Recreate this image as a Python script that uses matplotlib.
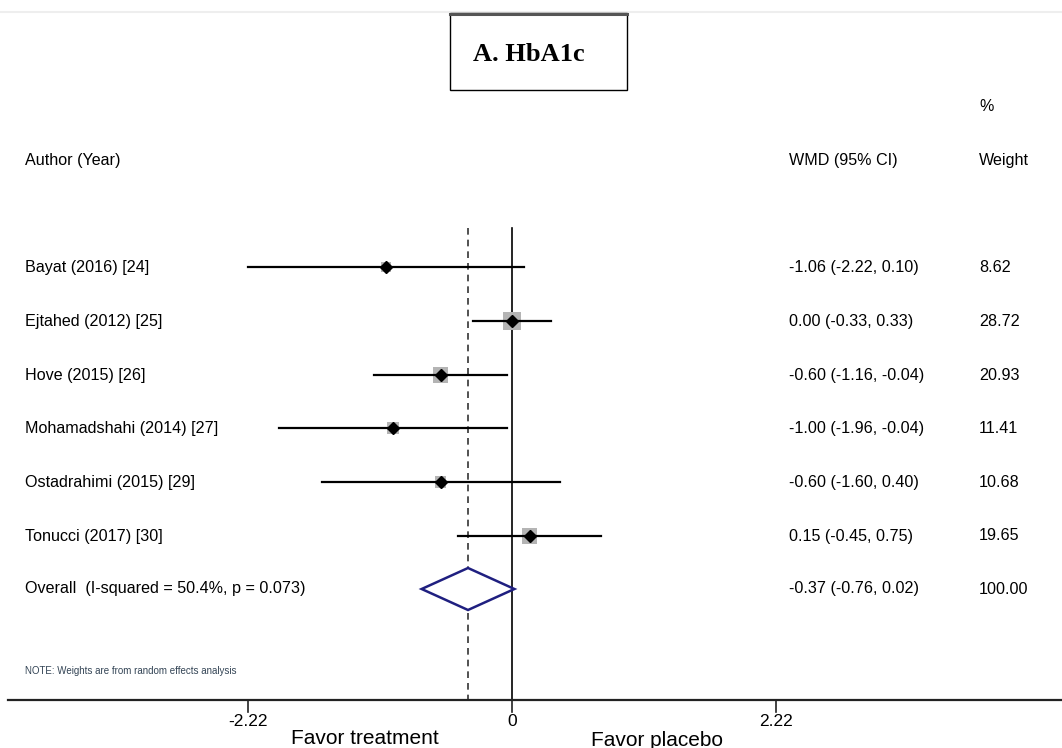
import matplotlib
matplotlib.use("Agg")
import matplotlib.pyplot as plt
from matplotlib.patches import Polygon, Rectangle
import numpy as np

studies = ["Bayat (2016) [24]", "Ejtahed (2012) [25]", "Hove (2015) [26]",
           "Mohamadshahi (2014) [27]", "Ostadrahimi (2015) [29]", "Tonucci (2017) [30]"]
wmd = [-1.06, 0.00, -0.60, -1.00, -0.60, 0.15]
lo = [-2.22, -0.33, -1.16, -1.96, -1.60, -0.45]
hi = [0.10, 0.33, -0.04, -0.04, 0.40, 0.75]
weights = [8.62, 28.72, 20.93, 11.41, 10.68, 19.65]
overall = (-0.37, -0.76, 0.02)
overall_label = "Overall  (I-squared = 50.4%, p = 0.073)"
xticks = [-2.22, 0, 2.22]
xticklabels = ["-2.22", "0", "2.22"]

fig = plt.figure(figsize=(10.62, 7.48), dpi=100)
ax = fig.add_axes([0, 0, 1, 1])
px = 118.9  # pixels per unit
ax.set_xlim(-512 / px, 550 / px)
ax.set_ylim(748, 0)
ax.axis("off")

font = "Liberation Sans"
fs = 11.6

def X(p):
    return p / px - 512 / px

row_y = [267, 321, 375, 428, 482, 536]
ov_y = 589

# reference lines
ax.plot([0, 0], [228, 700], color="black", lw=1.2, zorder=1)
ax.plot([overall[0]] * 2, [228, 700], color="#333333", lw=1.2, ls=(0, (4, 3)), zorder=1)

# study rows
xr = 1.0 / px
for y, m, l, h, w, name in zip(row_y, wmd, lo, hi, weights, studies):
    side = 3.4 * np.sqrt(w)
    ax.add_patch(Rectangle((m - side / 2 * xr, y - side / 2), side * xr, side,
                           facecolor="#b4b4b4", edgecolor="none", zorder=2))
    ax.plot([l, h], [y, y], color="black", lw=1.6, zorder=3)
    ax.plot([m], [y], marker="D", color="black", ms=6, zorder=4)
    ax.text(X(25), y, name, fontsize=fs, family=font, va="center", ha="left")
    ax.text(X(789), y, f"{m:.2f} ({l:.2f}, {h:.2f})", fontsize=fs, family=font,
            va="center", ha="left")
    ax.text(X(979), y, f"{w:.2f}", fontsize=fs, family=font, va="center", ha="left")

# overall diamond
om, ol, oh = overall
ax.add_patch(Polygon([[ol, ov_y], [om, ov_y - 21], [oh, ov_y], [om, ov_y + 21]],
                     closed=True, facecolor="white", edgecolor="#1f1f80", lw=1.8, zorder=3))
ax.text(X(25), ov_y, overall_label, fontsize=fs, family=font, va="center", ha="left")
ax.text(X(789), ov_y, f"{om:.2f} ({ol:.2f}, {oh:.2f})", fontsize=fs, family=font,
        va="center", ha="left")
ax.text(X(979), ov_y, "100.00", fontsize=fs, family=font, va="center", ha="left")

# headers
ax.text(X(25), 160, "Author (Year)", fontsize=fs, family=font, va="center", ha="left")
ax.text(X(789), 160, "WMD (95% CI)", fontsize=fs, family=font, va="center", ha="left")
ax.text(X(979), 160, "Weight", fontsize=fs, family=font, va="center", ha="left")
ax.text(X(979), 106, "%", fontsize=fs, family=font, va="center", ha="left")

# note
ax.text(X(25), 671, "NOTE: Weights are from random effects analysis", fontsize=7,
        family=font, va="center", ha="left", color="#334455")

# x axis
ax.plot([X(8), X(1062)], [700, 700], color="#222222", lw=1.6)
for t, lab in zip(xticks, xticklabels):
    ax.plot([t, t], [700, 712], color="#222222", lw=1.2)
    ax.text(t, 722, lab, fontsize=12.5, family=font, va="center", ha="center")
ax.text(X(365), 738, "Favor treatment", fontsize=15, family=font, va="center", ha="center")
ax.text(X(657), 740, "Favor placebo", fontsize=15, family=font, va="center", ha="center")

# top light rule
ax.plot([0, 1], [12, 12], transform=ax.get_yaxis_transform(), color="#eeeeee", lw=1.5)

# title box
ax.add_patch(Rectangle((X(450), 13), 177 / px, 77, facecolor="white",
                       edgecolor="black", lw=1.0, zorder=5))
ax.plot([X(450), X(627)], [13.5, 13.5], color="#555555", lw=2.2, zorder=6)
ax.text(X(529), 54, "A. HbA1c", fontsize=19, family="Liberation Serif",
        weight="bold", va="center", ha="center", zorder=7)

fig.savefig("out.png", dpi=100)
